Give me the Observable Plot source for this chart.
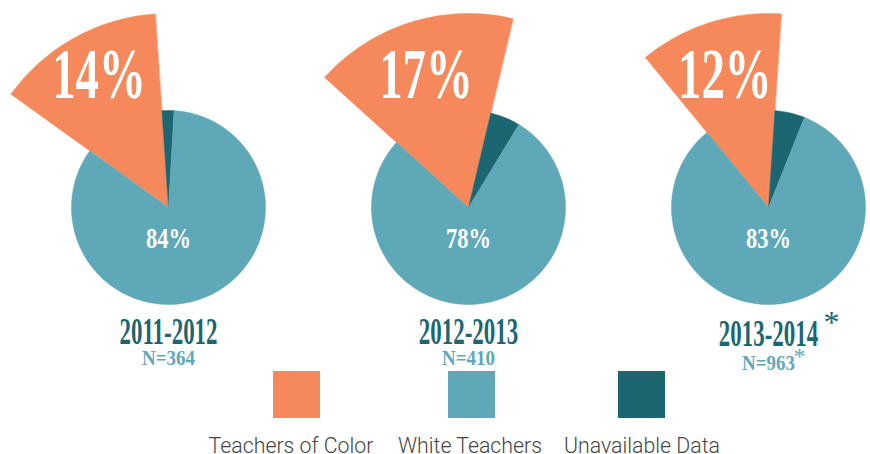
<!DOCTYPE html>
<html><head><meta charset="utf-8">
<script src="https://cdn.jsdelivr.net/npm/d3@7"></script>
<script src="https://cdn.jsdelivr.net/npm/@observablehq/plot@0.6"></script>
<style>body{margin:0;background:#fff} #chart svg{display:block}</style>
</head><body><div id="chart"></div>
<script>
// ---- data ----
const years = ["2011-2012", "2012-2013", "2013-2014"];
const sampleSizes = ["N=364", "N=410", "N=963"];
const footnoted = [false, false, true];
const categories = ["Teachers of Color", "White Teachers", "Unavailable Data"];
const teachersOfColor = [14, 17, 12];
const whiteTeachers = [84, 78, 83];
const unavailableData = [2, 5, 5];
const colors = ["#f5895c", "#5fa8b8", "#1c6672"];

// ---- layout ----
const W = 870, H = 454;
const pieCx = [168, 468, 768];
const pieCy = 207;
const radius = 97;
const explodedRadius = 194;
const startAngles = [-54.3, -47.9, -39.4]; // degrees clockwise from 12 o'clock
const bigLabelY = 74, bigLabelDist = 143;
const smallLabelY = 238;
const yearY = [332, 332, 334];
const nY = [358, 358, 363];
const legendCx = [296.5, 471.5, 641.5];
const legendTextX = [290.5, 469.5, 641.5];
const legendSize = 47, legendTop = 371;

// ---- build slices ----
const slicePts = [];
const bigLabels = [], smallLabels = [], yearLabels = [], nLabels = [], stars = [], smallStars = [];
years.forEach((yr, i) => {
  const parts = [
    [categories[0], teachersOfColor[i], explodedRadius],
    [categories[2], unavailableData[i], radius],
    [categories[1], whiteTeachers[i], radius]
  ];
  let a = startAngles[i];
  parts.forEach(([cat, v, r]) => {
    const a0 = a, a1 = a + v * 3.6; a = a1;
    const id = yr + "|" + cat;
    slicePts.push({id, cat, x: pieCx[i], y: pieCy});
    const n = Math.max(2, Math.ceil(a1 - a0));
    for (let k = 0; k <= n; k++) {
      const t = (a0 + (a1 - a0) * k / n) * Math.PI / 180;
      slicePts.push({id, cat, x: pieCx[i] + r * Math.sin(t), y: pieCy - r * Math.cos(t)});
    }
  });
  const mid = (startAngles[i] + teachersOfColor[i] * 1.8) * Math.PI / 180;
  bigLabels.push({x: pieCx[i] + bigLabelDist * Math.sin(mid), y: bigLabelY, text: teachersOfColor[i] + "%"});
  smallLabels.push({x: pieCx[i], y: smallLabelY, text: whiteTeachers[i] + "%"});
  yearLabels.push({x: pieCx[i], y: yearY[i], text: years[i]});
  nLabels.push({x: pieCx[i], y: nY[i], text: sampleSizes[i]});
  if (footnoted[i]) {
    stars.push({x: pieCx[i] + 63, y: yearY[i] - 12, text: "*"});
    smallStars.push({x: pieCx[i] + 31, y: nY[i] - 7, text: "*"});
  }
});
const legend = categories.map((c, i) => ({cat: c, x1: legendCx[i] - legendSize / 2, x2: legendCx[i] + legendSize / 2, y1: legendTop, y2: legendTop + legendSize, tx: legendTextX[i]}));

// horizontal condensing factor per label text
const condense = new Map();
bigLabels.forEach(d => condense.set(d.text, 0.65));
smallLabels.forEach(d => condense.set(d.text, 0.75));
yearLabels.forEach(d => condense.set(d.text, 0.62));
nLabels.forEach(d => condense.set(d.text, 0.95));

const serif = "'Liberation Serif', 'Times New Roman', serif";
const plot = Plot.plot({
  width: W, height: H, margin: 0,
  x: {domain: [0, W], range: [0, W], axis: null},
  y: {domain: [0, H], range: [0, H], axis: null},
  color: {domain: categories, range: colors},
  style: {background: "#fff"},
  marks: [
    Plot.line(slicePts, {x: "x", y: "y", z: "id", fill: "cat", stroke: "cat", strokeWidth: 0.5, curve: "linear-closed"}),
    Plot.text(bigLabels, {x: "x", y: "y", text: "text", fill: "white", fontSize: 72, fontWeight: "bold", fontFamily: serif}),
    Plot.text(smallLabels, {x: "x", y: "y", text: "text", fill: "white", fontSize: 30, fontWeight: "bold", fontFamily: serif}),
    Plot.text(yearLabels, {x: "x", y: "y", text: "text", fill: colors[2], fontSize: 37, fontWeight: "bold", fontFamily: serif}),
    Plot.text(nLabels, {x: "x", y: "y", text: "text", fill: colors[1], fontSize: 20, fontWeight: "bold", fontFamily: serif}),
    Plot.text(stars, {x: "x", y: "y", text: "text", fill: colors[2], fontSize: 32, fontFamily: serif}),
    Plot.text(smallStars, {x: "x", y: "y", text: "text", fill: colors[1], fontSize: 24, fontFamily: serif}),
    Plot.rect(legend, {x1: "x1", x2: "x2", y1: "y1", y2: "y2", fill: "cat"}),
    Plot.text(legend, {x: "tx", y: 446, text: "cat", fill: "#444444", fontSize: 21.3, fontWeight: 300, fontFamily: "Roboto, sans-serif"})
  ]
});

// horizontal condensing of the display serif text
plot.querySelectorAll("text").forEach(el => {
  const s = condense.get(el.textContent.trim());
  if (!s) return;
  const t = el.getAttribute("transform") || "";
  el.setAttribute("transform", `${t} scale(${s},1)`.trim());
});
document.getElementById("chart").appendChild(plot);
</script>
</body></html>
